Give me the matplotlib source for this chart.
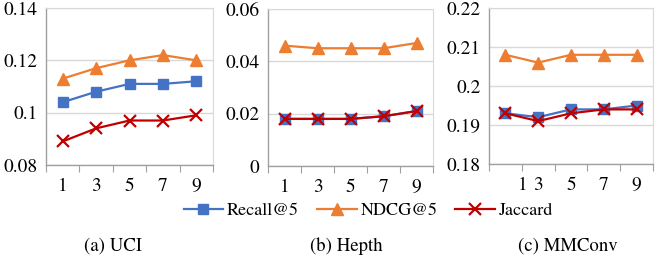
import numpy as np
import matplotlib.pyplot as plt

plt.rcParams['font.family'] = ['TeX Gyre Termes', 'Liberation Serif', 'DejaVu Serif']

categories = [1, 3, 5, 7, 9]

uci_recall = [0.104, 0.108, 0.111, 0.111, 0.112]
uci_ndcg = [0.113, 0.117, 0.120, 0.122, 0.120]
uci_jaccard = [0.089, 0.094, 0.097, 0.097, 0.099]

hepth_recall = [0.018, 0.018, 0.018, 0.019, 0.021]
hepth_ndcg = [0.046, 0.045, 0.045, 0.045, 0.047]
hepth_jaccard = [0.018, 0.018, 0.018, 0.019, 0.021]

mmconv_recall = [0.193, 0.192, 0.194, 0.194, 0.195]
mmconv_ndcg = [0.208, 0.206, 0.208, 0.208, 0.208]
mmconv_jaccard = [0.193, 0.191, 0.193, 0.194, 0.194]

uci_yticks = [0.08, 0.1, 0.12, 0.14]
uci_ylabels = ['0.08', '0.1', '0.12', '0.14']
hepth_yticks = [0, 0.02, 0.04, 0.06]
hepth_ylabels = ['0', '0.02', '0.04', '0.06']
mmconv_yticks = [0.18, 0.19, 0.2, 0.21, 0.22]
mmconv_ylabels = ['0.18', '0.19', '0.2', '0.21', '0.22']

captions = ['(a) UCI', '(b) Hepth', '(c) MMConv']

BLUE = '#4472C4'
ORANGE = '#ED7D31'
RED = '#C00000'

fig = plt.figure(figsize=(6.6, 2.65), dpi=100)
boxes = [
    [46 / 660, 1 - 165 / 265, 167 / 660, 157 / 265],
    [268 / 660, 1 - 166 / 265, 165 / 660, 157 / 265],
    [489 / 660, 1 - 164 / 265, 164 / 660, 156 / 265],
]
panels = [
    (uci_recall, uci_ndcg, uci_jaccard, uci_yticks, uci_ylabels),
    (hepth_recall, hepth_ndcg, hepth_jaccard, hepth_yticks, hepth_ylabels),
    (mmconv_recall, mmconv_ndcg, mmconv_jaccard, mmconv_yticks, mmconv_ylabels),
]

x = np.arange(1, len(categories) + 1)
handles = None
for i, (box, (rec, ndcg, jac, yt, yl)) in enumerate(zip(boxes, panels)):
    ax = fig.add_axes(box)
    h1, = ax.plot(x, rec, color=BLUE, marker='s', markersize=7, linewidth=1.6, label='Recall@5')
    h2, = ax.plot(x, ndcg, color=ORANGE, marker='^', markersize=8, linewidth=1.6, label='NDCG@5')
    h3, = ax.plot(x, jac, color=RED, marker='x', markersize=8, markeredgewidth=1.6,
                  linewidth=1.6, label='Jaccard')
    handles = [h1, h2, h3]
    ax.set_xlim(0.5, len(categories) + 0.5)
    ax.set_ylim(yt[0], yt[-1])
    ax.set_yticks(yt)
    ax.set_yticklabels(yl)
    if i == 2:
        # original figure puts the first label on the boundary tick
        ax.set_xticks([1.52] + list(x[1:]))
    else:
        ax.set_xticks(x)
    ax.set_xticklabels([str(c) for c in categories])
    ax.set_xticks(np.arange(0.5, len(categories) + 1), minor=True)
    ax.tick_params(axis='x', which='major', length=0, pad=9, labelsize=14)
    ax.tick_params(axis='x', which='minor', length=5, color='#A0A0A0', width=0.8)
    ax.tick_params(axis='y', length=0, pad=6, labelsize=14)
    ax.grid(axis='y', color='#D9D9D9', linewidth=1)
    ax.set_axisbelow(True)
    for side in ['left', 'bottom']:
        ax.spines[side].set_color('#A0A0A0')
        ax.spines[side].set_linewidth(1)
    ax.spines['right'].set_color('#D9D9D9')
    ax.spines['top'].set_color('#D9D9D9')

fig.legend(handles=handles, loc='center', bbox_to_anchor=(0.558, 0.205), ncol=3,
           frameon=False, fontsize=13, handlelength=2.2, handletextpad=0.2,
           columnspacing=1.0, borderpad=0)

caption_x = [113 / 660, 346 / 660, 568 / 660]
for cx, cap in zip(caption_x, captions):
    fig.text(cx, 1 - 246 / 265, cap, ha='center', va='center', fontsize=13.5)

fig.savefig('out.png', dpi=100)
